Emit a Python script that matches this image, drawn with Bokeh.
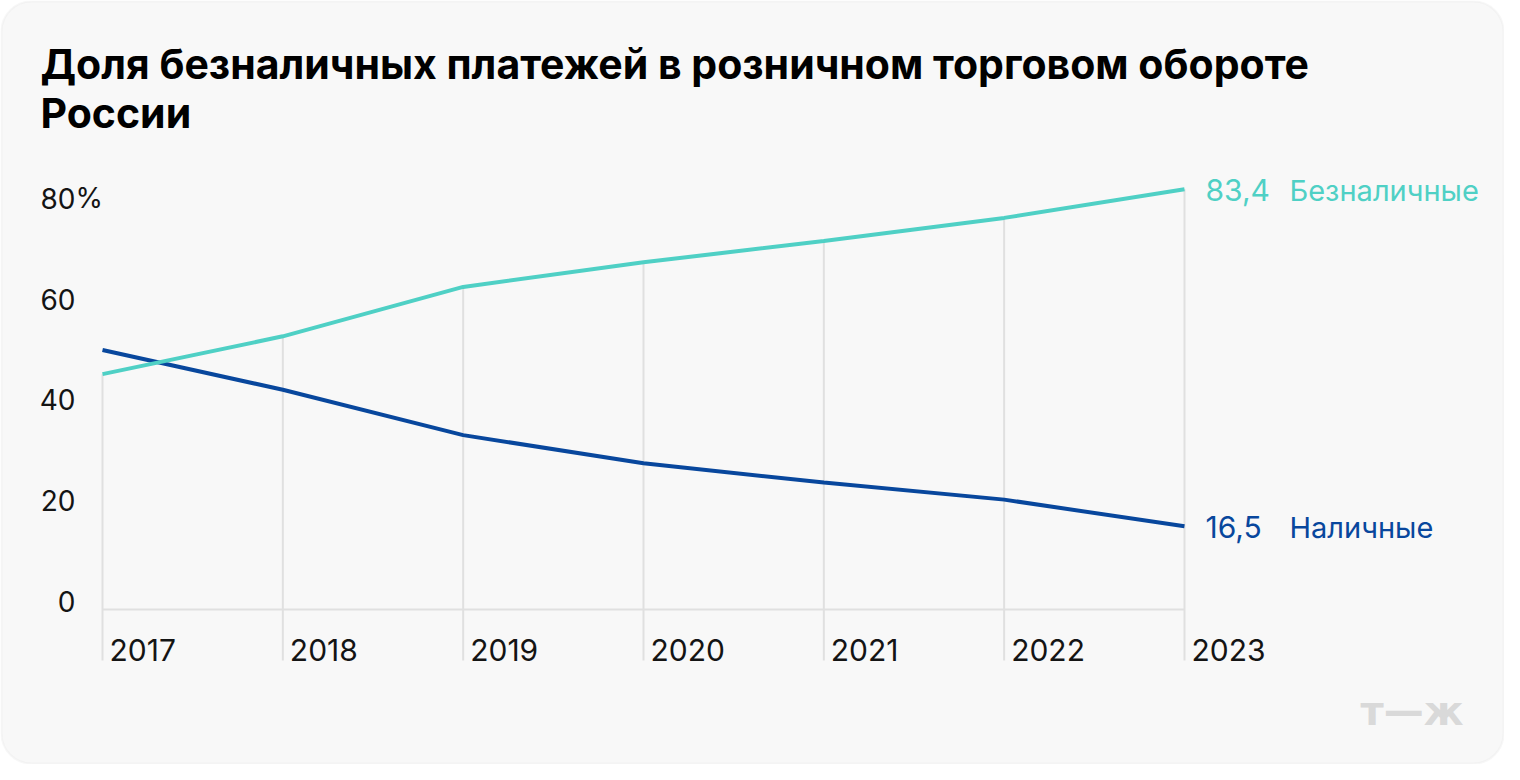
from bokeh.plotting import figure
from bokeh.models import ColumnDataSource, Label, BoxAnnotation, Range1d
from bokeh.core.properties import value
from bokeh.embed import file_html
from bokeh.resources import INLINE

# ---------------- data ----------------
years = [2017, 2018, 2019, 2020, 2021, 2022, 2023]
year_labels = ["2017", "2018", "2019", "2020", "2021", "2022", "2023"]
cashless = [46.7, 54.2, 64.0, 68.9, 73.1, 77.7, 83.4]   # Безналичные
cash = [51.5, 43.6, 34.6, 29.0, 25.2, 21.8, 16.5]       # Наличные
y_ticks = [0, 20, 40, 60, 80]
y_tick_labels = ["0", "20", "40", "60", "80"]
series_names = ["Безналичные", "Наличные"]
end_values = ["83,4", "16,5"]
title_lines = ["Доля безналичных платежей в розничном торговом обороте", "России"]
watermark = "т—ж"

# ---------------- style ----------------
TEAL = "#4fd0c5"
NAVY = "#08479d"
GRID = "#e0e0e0"
TEXT = "#141414"
FONT = "Inter"

W, H = 1504, 764
X0_PX, PX_PER_YEAR = 102.0, 180.33     # 2017 position from left, px per year
Y0_PX, PX_PER_UNIT = 155.0, 5.04       # zero position from bottom, px per %

x_start = years[0] - X0_PX / PX_PER_YEAR
x_end = x_start + W / PX_PER_YEAR
y_start = -Y0_PX / PX_PER_UNIT
y_end = y_start + H / PX_PER_UNIT
drop_bottom = -51.0 / PX_PER_UNIT      # grid lines run 51px below zero

p = figure(width=W, height=H, output_backend="svg", toolbar_location=None,
           x_range=Range1d(x_start, x_end), y_range=Range1d(y_start, y_end),
           x_axis_type=None, y_axis_type=None, min_border=0)
p.background_fill_color = "white"
p.border_fill_color = "white"
p.outline_line_color = None
p.grid.visible = False

# card
p.add_layout(BoxAnnotation(left=1, right=W - 1, bottom=1, top=H - 1,
                           left_units="screen", right_units="screen",
                           bottom_units="screen", top_units="screen",
                           fill_color="#f8f8f8", fill_alpha=1,
                           line_color="#e4e4e4", line_width=2,
                           border_radius=30, level="underlay"))

src = ColumnDataSource(dict(x=years, cashless=cashless, cash=cash,
                            bottom=[drop_bottom] * len(years),
                            zero=[y_ticks[0]] * len(years), ylab=year_labels))

# vertical drop lines
p.segment(x0="x", y0="cashless", x1="x", y1="bottom", source=src,
          line_color=GRID, line_width=2)
# baseline
p.segment(x0=[years[0]], y0=[y_ticks[0]], x1=[years[-1]], y1=[y_ticks[0]],
          line_color=GRID, line_width=2)

# series
p.line(x="x", y="cash", source=src, line_color=NAVY, line_width=4)
p.line(x="x", y="cashless", source=src, line_color=TEAL, line_width=4)

# year labels
p.text(x="x", y="zero", text="ylab", source=src, x_offset=7, y_offset=40,
       text_font=value(FONT), text_font_size="30px", text_color=TEXT,
       text_align="left", text_baseline="middle")

# y tick labels
p.text(x=[years[0]] * len(y_ticks), y=y_ticks, text=y_tick_labels,
       x_offset=-27, y_offset=-8, text_font=value(FONT), text_font_size="28px",
       text_color=TEXT, text_align="right", text_baseline="middle")
p.text(x=[years[0]], y=[y_ticks[-1]], text=["%"], x_offset=-27, y_offset=-8,
       text_font=value(FONT), text_font_size="28px", text_color=TEXT,
       text_align="left", text_baseline="middle")

# end labels
end_src = ColumnDataSource(dict(x=[years[-1], years[-1]], y=[cashless[-1], cash[-1]],
                                v=end_values, n=series_names, c=[TEAL, NAVY]))
p.text(x="x", y="y", text="v", source=end_src, x_offset=21, y_offset=1,
       text_font=value(FONT), text_font_size="30px", text_color="c",
       text_align="left", text_baseline="middle")
p.text(x="x", y="y", text="n", source=end_src, x_offset=105, y_offset=1,
       text_font=value(FONT), text_font_size="29px", text_color="c",
       text_align="left", text_baseline="middle")

# title
p.add_layout(Label(x=40, y=H - 63, x_units="screen", y_units="screen", text=title_lines[0],
                   text_font=FONT, text_font_style="bold", text_font_size="41px",
                   text_color="#000000", text_baseline="middle"))
p.add_layout(Label(x=40, y=H - 112, x_units="screen", y_units="screen", text=title_lines[1],
                   text_font=FONT, text_font_style="bold", text_font_size="41px",
                   text_color="#000000", text_baseline="middle"))

# watermark
p.add_layout(Label(x=1360, y=H - 710, x_units="screen", y_units="screen", text=watermark,
                   text_font="DejaVu Sans", text_font_style="bold", text_font_size="40px",
                   text_color="#d9d9d9", text_baseline="middle"))

open("out.html", "w").write(file_html(p, INLINE))
